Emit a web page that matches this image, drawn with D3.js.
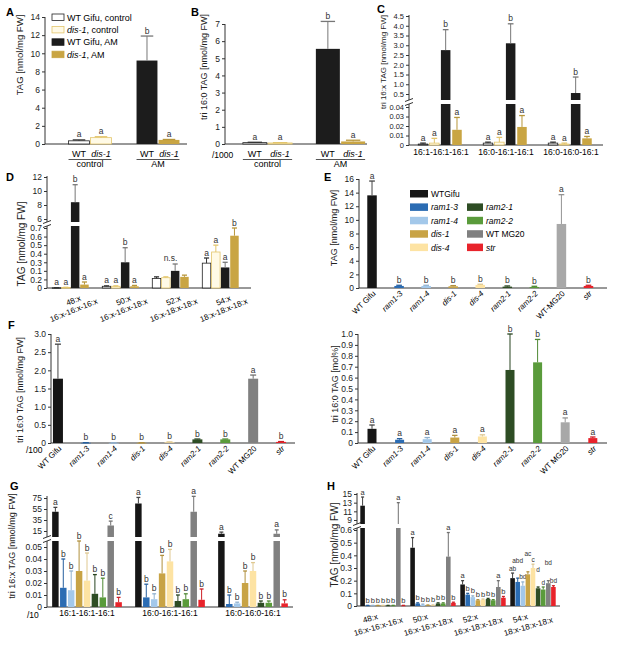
<!DOCTYPE html>
<html><head><meta charset="utf-8">
<script src="https://cdn.jsdelivr.net/npm/d3@7"></script>
<style>body{margin:0;background:#fff} text{font-family:"Liberation Sans",Arial,sans-serif}</style>
</head><body><script>
// ---------------- DATA ----------------
const abTreat = ["control", "AM"];
const abGeno = ["WT", "dis-1"];
const aMean = [[0.35, 0.7], [9.2, 0.45]];
const aErr = [[0.45, 0.8], [11.9, 0.5]];
const aLetters = [["a", "a"], ["b", "a"]];
const aTicks = [0, 2, 4, 6, 8, 10, 12, 14];
const bMean = [[0.08, 0.06], [5.55, 0.15]];
const bErr = [[0.1, 0.08], [7.15, 0.22]];
const bLetters = [["a", "a"], ["b", "a"]];
const bTicks = [0, 1, 2, 3, 4, 5, 6, 7];
const condNames = ["WT Gifu, control", "dis-1, control", "WT Gifu, AM", "dis-1, AM"];
const cGroups = ["16:1-16:1-16:1", "16:0-16:1-16:1", "16:0-16:0-16:1"];
const cMean = [[0.001, 0.002, 2.75, 0.016], [0.002, 0.003, 3.1, 0.019], [0.002, 0.001, 0.55, 0.007]];
const cErr = [[0.002, 0.007, 3.8, 0.029], [0.003, 0.008, 4.1, 0.031], [0.003, 0.002, 1.37, 0.009]];
const cLetters = [["a", "a", "b", "a"], ["a", "a", "b", "a"], ["a", "a", "b", "a"]];
const cLowTicks = [0, 0.01, 0.02, 0.03, 0.04];
const cUpTicks = [0.5, 1.0, 1.5, 2.0, 2.5, 3.0, 3.5, 4.0, 4.5];
const dGroups = ["48:x", "50:x", "52:x", "54:x"];
const dSub = ["16:x-16:x-16:x", "16:x-16:x-18:x", "16:x-18:x-18:x", "18:x-18:x-18:x"];
const dMean = [[0.003, 0.005, 8.4, 0.04], [0.02, 0.02, 0.3, 0.02], [0.11, 0.12, 0.2, 0.13], [0.29, 0.42, 0.24, 0.61]];
const dErr = [[0.004, 0.008, 10.9, 0.07], [0.025, 0.025, 0.47, 0.03], [0.13, 0.13, 0.28, 0.15], [0.35, 0.5, 0.3, 0.7]];
const dLetters = [["a", "a", "b", "a"], ["a", "a", "b", "a"], ["", "", "", ""], ["a", "a", "a", "b"]];
const dNote = ["", "", "n.s.", ""];
const dLowTicks = [0, 0.1, 0.2, 0.3, 0.4, 0.5, 0.6, 0.7];
const dLowLabels = ["0", "0.2", "0.1", "0.3", "0.4", "0.5", "0.6", "0.7"];
const dUpTicks = [6, 8, 10, 12];
const genotypes = ["WT Gifu", "ram1-3", "ram1-4", "dis-1", "dis-4", "ram2-1", "ram2-2", "WT MG20", "str"];
const eLabels = ["WT Gifu", "ram1-3", "ram1-4", "dis-1", "dis-4", "ram2-1", "ram2-2", "WT-MG20", "str"];
const italicGeno = [false, true, true, true, true, true, true, false, true];
const legendNames = ["WTGifu", "ram1-3", "ram1-4", "dis-1", "dis-4", "ram2-1", "ram2-2", "WT MG20", "str"];
const eMean = [13.6, 0.3, 0.3, 0.25, 0.45, 0.2, 0.15, 9.4, 0.3];
const eErr = [15.7, 0.4, 0.4, 0.35, 0.55, 0.3, 0.25, 13.7, 0.4];
const eLetters = ["a", "b", "b", "b", "b", "b", "b", "a", "b"];
const eTicks = [0, 2, 4, 6, 8, 10, 12, 14, 16];
const fMean = [1.77, 0.005, 0.003, 0.004, 0.02, 0.1, 0.1, 1.77, 0.03];
const fErr = [2.72, 0.01, 0.006, 0.008, 0.03, 0.11, 0.11, 1.87, 0.04];
const fLetters = ["a", "b", "b", "b", "b", "b", "b", "a", "b"];
const fTicks = [0, 0.5, 1.0, 1.5, 2.0, 2.5, 3.0];
const f2Mean = [0.13, 0.03, 0.035, 0.05, 0.06, 0.67, 0.74, 0.19, 0.045];
const f2Err = [0.165, 0.04, 0.05, 0.07, 0.075, 1.0, 0.95, 0.23, 0.055];
const f2Letters = ["a", "a", "a", "a", "a", "b", "b", "a", "a"];
const f2Ticks = [0, 0.1, 0.2, 0.3, 0.4, 0.5, 0.6, 0.7, 0.8, 0.9, 1.0];
const gMean = [[50, 0.016, 0.014, 0.03, 0.022, 0.011, 0.008, 25, 0.004],
               [65, 0.008, 0.0065, 0.028, 0.038, 0.005, 0.0065, 50, 0.006],
               [10, 0.0025, 0.003, 0.02, 0.03, 0.0035, 0.0035, 10, 0.003]];
const gErr = [[58, 0.04, 0.03, 0.055, 0.045, 0.027, 0.024, 33, 0.008],
              [76, 0.019, 0.011, 0.043, 0.048, 0.01, 0.011, 78, 0.015],
              [13, 0.01, 0.004, 0.03, 0.037, 0.005, 0.005, 17, 0.006]];
const gLetters = [["a", "b", "b", "b", "b", "b", "b", "c", "b"],
                  ["a", "b", "b", "b", "b", "b", "b", "a", "b"],
                  ["a", "b", "b", "b", "b", "b", "b", "a", "b"]];
const gLowTicks = [0, 0.01, 0.02, 0.03, 0.04, 0.05];
const gUpTicks = [15, 35, 55, 75];
const hMean = [[12.3, 0.003, 0.003, 0.003, 0.003, 0.003, 0.003, 7.8, 0.003],
               [0.46, 0.02, 0.01, 0.005, 0.005, 0.02, 0.02, 0.39, 0.025],
               [0.17, 0.09, 0.07, 0.045, 0.05, 0.055, 0.045, 0.15, 0.065],
               [0.22, 0.19, 0.16, 0.25, 0.3, 0.14, 0.13, 0.18, 0.15]];
const hErr = [[14.3, 0.005, 0.005, 0.005, 0.005, 0.005, 0.005, 13, 0.005],
              [0.54, 0.025, 0.015, 0.008, 0.008, 0.025, 0.025, 0.58, 0.03],
              [0.2, 0.1, 0.08, 0.05, 0.055, 0.06, 0.05, 0.2, 0.075],
              [0.26, 0.22, 0.19, 0.27, 0.33, 0.15, 0.15, 0.2, 0.16]];
const hLetters = [["a", "b", "b", "b", "b", "b", "b", "a", "b"],
                  ["a", "b", "b", "b", "b", "b", "b", "a", "b"],
                  ["a", "b", "b", "b", "b", "b", "b", "a", "b"],
                  ["ab", "abd", "bd", "ac", "c", "d", "d", "bd", "bd"]];
const hLowTicks = [0, 0.1, 0.2, 0.3, 0.4, 0.5, 0.6];
const hUpTicks = [9, 11, 13, 15];

// ---------------- STYLE ----------------
const condStyle = [
  {fill: "#ffffff", stroke: "#222", err: "#333"},
  {fill: "#fffae6", stroke: "#e3c56c", err: "#e3c56c"},
  {fill: "#1c1c1c", stroke: "none", err: "#777"},
  {fill: "#c9a543", stroke: "none", err: "#b8963a"}
];
const genoColors = ["#161616", "#2b6cb3", "#a3c8ea", "#c8a345", "#fde3a3", "#2e4d24", "#5a9b3b", "#808080", "#e8232b"];
function genoStyle(i, lightGrey) {
  let f = genoColors[i];
  if (i === 7 && lightGrey) f = "#a8a8a8";
  const err = i === 0 ? "#444" : d3.color(f).darker(0.35).formatHex();
  return {fill: f, stroke: "none", err};
}

const svg = d3.select("body").append("svg").attr("width", 617).attr("height", 652);

// ---------------- HELPERS ----------------
function yModel(low, up) {
  const lo = d3.scaleLinear().domain(low.domain).range(low.range);
  const M = {lo, y0: low.range[0], loTop: low.top};
  if (up) {
    M.up = d3.scaleLinear().domain(up.domain).range(up.range);
    M.upBot = up.bottom; M.upTop = up.top;
    M.loTopV = lo.invert(low.top); M.upBotV = M.up.invert(up.bottom);
  }
  M.map = v => {
    if (!M.up || v <= M.loTopV) return lo(v);
    if (v >= M.upBotV) return M.up(v);
    return M.loTop + (M.upBot - M.loTop) * (v - M.loTopV) / (M.upBotV - M.loTopV);
  };
  M.segs = (a, b) => {
    if (!M.up) return [[lo(a), lo(b)]];
    const r = [];
    if (a < M.loTopV) r.push([lo(a), lo(Math.min(b, M.loTopV))]);
    if (b > M.upBotV) r.push([M.up(Math.max(a, M.upBotV)), M.up(b)]);
    return r;
  };
  return M;
}
function drawYAxis(g, M, x, lowTicks, lowFmt, upTicks, upFmt, fs) {
  const ax = g.append("g").attr("transform", `translate(${x},0)`);
  const draw = (scale, ticks, fmt) => {
    const a = ax.append("g").call(d3.axisLeft(scale).tickValues(ticks).tickFormat(fmt).tickSize(3).tickPadding(2));
    a.select(".domain").remove();
    a.selectAll("text").style("font-size", fs || "8.5px").attr("fill", "#222");
    a.selectAll("line").attr("stroke", "#333");
  };
  draw(M.lo, lowTicks, lowFmt);
  ax.append("line").attr("y1", M.y0).attr("y2", M.loTop).attr("stroke", "#333");
  if (M.up) {
    draw(M.up, upTicks, upFmt);
    ax.append("line").attr("y1", M.upBot).attr("y2", M.upTop).attr("stroke", "#333");
    [M.loTop, M.upBot].forEach(yy => ax.append("line").attr("x1", -4).attr("x2", 4)
      .attr("y1", yy + 1.5).attr("y2", yy - 1.5).attr("stroke", "#333"));
  }
}
function xLine(g, x0, x1, y) {
  g.append("line").attr("x1", x0).attr("x2", x1).attr("y1", y).attr("y2", y).attr("stroke", "#333").attr("stroke-width", 1);
}
function drawBar(g, M, cx, w, v, e, st, letter, lsize, lift) {
  M.segs(0, v).forEach(([ya, yb]) => g.append("rect").attr("x", cx - w / 2).attr("y", Math.min(ya, yb))
    .attr("width", w).attr("height", Math.max(Math.abs(ya - yb), 0.6)).attr("fill", st.fill)
    .attr("stroke", st.stroke).attr("stroke-width", 0.8));
  if (e != null && e > v) {
    M.segs(v, e).forEach(([ya, yb]) => g.append("line").attr("x1", cx).attr("x2", cx).attr("y1", ya).attr("y2", yb)
      .attr("stroke", st.err).attr("stroke-width", 1));
    const yt = M.map(e);
    g.append("line").attr("x1", cx - Math.max(w * 0.3, 1.5)).attr("x2", cx + Math.max(w * 0.3, 1.5)).attr("y1", yt).attr("y2", yt)
      .attr("stroke", st.err).attr("stroke-width", 1.3);
  }
  if (letter) g.append("text").attr("x", cx).attr("y", M.map(Math.max(e || v, v)) - 2.5 - (lift || 0)).attr("text-anchor", "middle")
    .style("font-size", lsize || "8.5px").attr("fill", "#333").text(letter);
}
function yTitle(g, x, y, txt, fs) {
  g.append("text").attr("transform", `translate(${x},${y}) rotate(-90)`).attr("text-anchor", "middle")
    .style("font-size", fs || "9.5px").attr("fill", "#222").text(txt);
}
function panelLetter(x, y, t) {
  svg.append("text").attr("x", x).attr("y", y).style("font-size", "11px").style("font-weight", "bold").text(t);
}
function genoLabel(sel, name, ital) {
  sel.append("tspan").style("font-style", ital ? "italic" : "normal").text(name);
}
const fmt1 = d => d === 0 ? "0" : d3.format(".1f")(d);

// ---------------- PANEL A ----------------
panelLetter(6, 16, "A");
{
  const g = svg.append("g");
  const M = yModel({domain: [0, 14], range: [144, 17], top: 17});
  drawYAxis(g, M, 45, aTicks, d3.format("d"));
  xLine(g, 45, 187, 144);
  yTitle(g, 23, 55, "TAG [nmol/mg FW]");
  const xo = d3.scaleBand().domain(abTreat).range([56, 192]);
  const xi = d3.scaleBand().domain(abGeno).range([0, xo.bandwidth()]).paddingInner(0.05).paddingOuter(0.57);
  abTreat.forEach((t, ti) => abGeno.forEach((ge, gi) => {
    const cx = xo(t) + xi(ge) + xi.bandwidth() / 2;
    drawBar(g, M, cx, xi.bandwidth(), aMean[ti][gi], aErr[ti][gi], condStyle[ti * 2 + gi], aLetters[ti][gi]);
    const tl = g.append("text").attr("x", cx).attr("y", 157).attr("text-anchor", "middle").style("font-size", "9px");
    genoLabel(tl, ge, gi === 1);
  }));
  abTreat.forEach(t => {
    const a = xo(t) + xi(abGeno[0]), b = xo(t) + xi(abGeno[1]) + xi.bandwidth();
    g.append("line").attr("x1", a).attr("x2", b).attr("y1", 159.5).attr("y2", 159.5).attr("stroke", "#555");
    g.append("text").attr("x", (a + b) / 2).attr("y", 167).attr("text-anchor", "middle").style("font-size", "9px").text(t);
  });
  const lg = g.append("g");
  condNames.forEach((n, i) => {
    const y = 14 + i * 12.4;
    lg.append("rect").attr("x", 52).attr("y", y).attr("width", 12).attr("height", 6.5)
      .attr("fill", condStyle[i].fill).attr("stroke", condStyle[i].stroke === "none" ? condStyle[i].fill : condStyle[i].stroke).attr("stroke-width", 0.8);
    const t = lg.append("text").attr("x", 67).attr("y", y + 6.5).style("font-size", "9px");
    const parts = n.split(", ");
    genoLabel(t, parts[0], parts[0] === "dis-1");
    t.append("tspan").text(", " + parts[1]);
  });
}

// ---------------- PANEL B ----------------
panelLetter(191, 16, "B");
{
  const g = svg.append("g");
  const M = yModel({domain: [0, 7], range: [144, 24], top: 24});
  drawYAxis(g, M, 225, bTicks, d3.format("d"));
  xLine(g, 225, 367, 144);
  yTitle(g, 207, 67, "tri 16:0 TAG [nmol/mg FW]", "9px");
  const xo = d3.scaleBand().domain(abTreat).range([231, 377]);
  const xi = d3.scaleBand().domain(abGeno).range([0, xo.bandwidth()]).paddingInner(0.05).paddingOuter(0.47);
  abTreat.forEach((t, ti) => abGeno.forEach((ge, gi) => {
    const cx = xo(t) + xi(ge) + xi.bandwidth() / 2;
    drawBar(g, M, cx, xi.bandwidth(), bMean[ti][gi], bErr[ti][gi], condStyle[ti * 2 + gi], bLetters[ti][gi]);
    const tl = g.append("text").attr("x", cx).attr("y", 157).attr("text-anchor", "middle").style("font-size", "9px");
    genoLabel(tl, ge, gi === 1);
  }));
  abTreat.forEach(t => {
    const a = xo(t) + xi(abGeno[0]), b = xo(t) + xi(abGeno[1]) + xi.bandwidth();
    g.append("line").attr("x1", a).attr("x2", b).attr("y1", 159.5).attr("y2", 159.5).attr("stroke", "#555");
    g.append("text").attr("x", (a + b) / 2).attr("y", 167).attr("text-anchor", "middle").style("font-size", "9px").text(t);
  });
  g.append("text").attr("x", 212).attr("y", 158).style("font-size", "8.5px").text("/1000");
}

// ---------------- PANEL C ----------------
panelLetter(377, 13, "C");
{
  const g = svg.append("g");
  const M = yModel({domain: [0, 0.04], range: [145, 107], top: 104},
                   {domain: [0.5, 4.5], range: [94, 16], bottom: 100, top: 15});
  drawYAxis(g, M, 409, cLowTicks, d => d === 0 ? "0" : d3.format(".2f")(d), cUpTicks, d3.format(".1f"), "7.5px");
  xLine(g, 409, 603, 145);
  yTitle(g, 386, 62, "tri 16:x TAG [nmol/mg FW]", "8px");
  const xo = d3.scaleBand().domain(cGroups).range([407.5, 602.5]);
  const xi = d3.scaleBand().domain(d3.range(4)).range([0, xo.bandwidth()]).paddingInner(0.16).paddingOuter(0.95);
  cGroups.forEach((gr, gi) => {
    d3.range(4).forEach(k => {
      const cx = xo(gr) + xi(k) + xi.bandwidth() / 2;
      drawBar(g, M, cx, xi.bandwidth(), cMean[gi][k], cErr[gi][k], condStyle[k], cLetters[gi][k]);
    });
    g.append("text").attr("x", xo(gr) + xo.bandwidth() / 2 + 1).attr("y", 155).attr("text-anchor", "middle").style("font-size", "8.5px").text(gr);
  });
}

// ---------------- PANEL D ----------------
panelLetter(6, 181, "D");
{
  const g = svg.append("g");
  const M = yModel({domain: [0, 0.7], range: [288, 228], top: 226},
                   {domain: [6, 12], range: [219, 177], bottom: 222, top: 176});
  drawYAxis(g, M, 47, dLowTicks, (d, i) => dLowLabels[i], dUpTicks, d3.format("d"), "8.5px");
  xLine(g, 47, 251, 288);
  yTitle(g, 25, 244, "TAG [nmol/mg FW]", "10px");
  const xo = d3.scaleBand().domain(dGroups).range([45.5, 245.5]);
  const xi = d3.scaleBand().domain(d3.range(4)).range([0, xo.bandwidth()]).paddingInner(0.09).paddingOuter(0.73);
  dGroups.forEach((gr, gi) => {
    d3.range(4).forEach(k => {
      const cx = xo(gr) + xi(k) + xi.bandwidth() / 2;
      drawBar(g, M, cx, xi.bandwidth(), dMean[gi][k], dErr[gi][k], condStyle[k], dLetters[gi][k]);
    });
    const gc = xo(gr) + xo.bandwidth() / 2;
    if (dNote[gi]) g.append("text").attr("x", gc).attr("y", M.map(d3.max(dErr[gi])) - 3).attr("text-anchor", "middle")
      .style("font-size", "8.5px").attr("fill", "#333").text(dNote[gi]);
    const lg = g.append("g").attr("transform", `translate(${gc + 4},${303}) rotate(-22)`);
    lg.append("text").attr("text-anchor", "middle").style("font-size", "8px").text(gr);
    lg.append("text").attr("x", -3.5).attr("y", 9).attr("text-anchor", "middle").style("font-size", "8px").text(dSub[gi]);
  });
}

// ---------------- PANEL E ----------------
panelLetter(324, 181, "E");
{
  const g = svg.append("g");
  const M = yModel({domain: [0, 16], range: [288, 179], top: 179});
  drawYAxis(g, M, 359, eTicks, d3.format("d"));
  xLine(g, 359, 607, 288);
  yTitle(g, 337, 228, "TAG [nmol/mg FW]", "9px");
  const x = d3.scalePoint().domain(genotypes).range([358.5, 602]).padding(0.5);
  genotypes.forEach((gn, i) => {
    drawBar(g, M, x(gn), 9.5, eMean[i], eErr[i], genoStyle(i, true), eLetters[i]);
    const t = g.append("text").attr("transform", `translate(${x(gn) + 4},${294}) rotate(-45)`).attr("text-anchor", "end").style("font-size", "8px");
    genoLabel(t, eLabels[i], italicGeno[i]);
  });
  genotypes.forEach((gn, i) => {
    const col = i < 5 ? 0 : 1;
    const row = i < 5 ? i : i - 4;
    const lx = col === 0 ? 410 : 467, ly = 190 + row * 13.4;
    const st = genoStyle(i, false);
    g.append("rect").attr("x", lx).attr("y", ly).attr("width", col === 0 ? 18 : 16).attr("height", 7.5).attr("fill", st.fill);
    const t = g.append("text").attr("x", lx + (col === 0 ? 21 : 19)).attr("y", ly + 7).style("font-size", "8.5px");
    genoLabel(t, legendNames[i], italicGeno[i]);
  });
}

// ---------------- PANEL F (left) ----------------
panelLetter(8, 329, "F");
{
  const g = svg.append("g");
  const M = yModel({domain: [0, 3], range: [443, 334], top: 334});
  drawYAxis(g, M, 51, fTicks, fmt1);
  xLine(g, 51, 295, 443);
  yTitle(g, 23, 390, "tri 16:0 TAG [nmol/mg FW]", "9px");
  const x = d3.scalePoint().domain(genotypes).range([44, 295]).padding(0.5);
  genotypes.forEach((gn, i) => {
    drawBar(g, M, x(gn), 10, fMean[i], fErr[i], genoStyle(i, false), fLetters[i]);
    const t = g.append("text").attr("transform", `translate(${x(gn) + 4},${449}) rotate(-45)`).attr("text-anchor", "end").style("font-size", "8px");
    genoLabel(t, genotypes[i], italicGeno[i]);
  });
  g.append("text").attr("x", 26).attr("y", 453).style("font-size", "8.5px").text("/100");
}

// ---------------- PANEL F (right) ----------------
{
  const g = svg.append("g");
  const M = yModel({domain: [0, 1], range: [443, 334], top: 334});
  drawYAxis(g, M, 358, f2Ticks, fmt1);
  xLine(g, 358, 607, 443);
  yTitle(g, 338, 384, "tri 16:0 TAG [mol%]", "9px");
  const x = d3.scalePoint().domain(genotypes).range([358.2, 606.6]).padding(0.5);
  genotypes.forEach((gn, i) => {
    drawBar(g, M, x(gn), 9, f2Mean[i], f2Err[i], genoStyle(i, true), f2Letters[i]);
    const t = g.append("text").attr("transform", `translate(${x(gn) + 4},${449}) rotate(-45)`).attr("text-anchor", "end").style("font-size", "8px");
    genoLabel(t, genotypes[i], italicGeno[i]);
  });
}

// ---------------- PANEL G ----------------
panelLetter(10, 490, "G");
{
  const g = svg.append("g");
  const M = yModel({domain: [0, 0.05], range: [607, 547], top: 541},
                   {domain: [15, 75], range: [531, 498], bottom: 537, top: 496});
  drawYAxis(g, M, 47, gLowTicks, d => d === 0 ? "0" : d3.format(".2f")(d), gUpTicks, d3.format("d"));
  xLine(g, 47, 293, 607);
  yTitle(g, 15, 546, "tri 16:x TAG [nmol/mg FW]", "9px");
  const xo = d3.scaleBand().domain(cGroups).range([45.5, 294.5]);
  const xi = d3.scaleBand().domain(genotypes).range([0, xo.bandwidth()]).paddingInner(0.18).paddingOuter(0.84);
  cGroups.forEach((gr, gi) => {
    genotypes.forEach((gn, k) => {
      const cx = xo(gr) + xi(gn) + xi.bandwidth() / 2;
      drawBar(g, M, cx, xi.bandwidth(), gMean[gi][k], gErr[gi][k], genoStyle(k, false), gLetters[gi][k]);
    });
    g.append("text").attr("x", xo(gr) + xo.bandwidth() / 2).attr("y", 616).attr("text-anchor", "middle").style("font-size", "8.5px").text(gr);
  });
  g.append("text").attr("x", 27).attr("y", 618).style("font-size", "8.5px").text("/10");
}

// ---------------- PANEL H ----------------
panelLetter(327, 490, "H");
{
  const g = svg.append("g");
  const M = yModel({domain: [0, 0.6], range: [606, 530], top: 528},
                   {domain: [9, 15], range: [520, 494], bottom: 524, top: 493});
  drawYAxis(g, M, 357, hLowTicks, d => d === 0 ? "0" : d3.format(".1f")(d), hUpTicks, d3.format("d"));
  xLine(g, 357, 560, 606);
  yTitle(g, 338, 545, "TAG [nmol/mg FW]", "10px");
  const xo = d3.scaleBand().domain(dGroups).range([358, 558]);
  const xi = d3.scaleBand().domain(genotypes).range([0, xo.bandwidth()]).paddingInner(0.1).paddingOuter(0.45);
  dGroups.forEach((gr, gi) => {
    genotypes.forEach((gn, k) => {
      const cx = xo(gr) + xi(gn) + xi.bandwidth() / 2;
      const lift = gi === 3 && k % 2 === 1 ? 13 : 0;
      drawBar(g, M, cx, xi.bandwidth(), hMean[gi][k], hErr[gi][k], genoStyle(k, false), hLetters[gi][k], gi === 3 ? "6.5px" : "7.5px", lift);
    });
    const gc = xo(gr) + xo.bandwidth() / 2;
    const lg = g.append("g").attr("transform", `translate(${gc - 12},${621}) rotate(-16)`);
    lg.append("text").attr("text-anchor", "middle").style("font-size", "8px").text(gr);
    lg.append("text").attr("x", 5.5).attr("y", 10).attr("text-anchor", "middle").style("font-size", "8px").text(dSub[gi]);
  });
}
</script></body></html>
